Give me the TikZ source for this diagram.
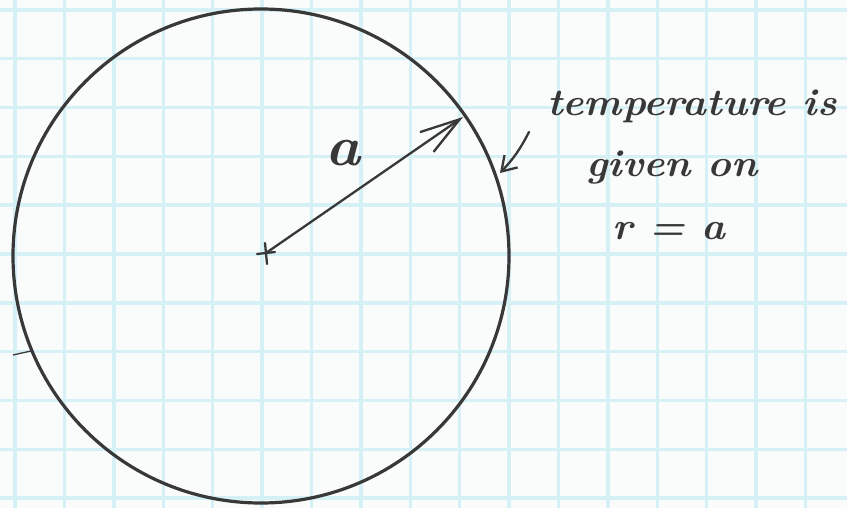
\documentclass[tikz,border=0pt]{standalone}
\usetikzlibrary{arrows.meta}
\definecolor{paper}{HTML}{FAFBFB}
\definecolor{gridblue}{HTML}{D6F1F6}
\definecolor{ink}{HTML}{383838}
\begin{document}
\begin{tikzpicture}[x=1pt,y=-1pt,
  inkline/.style={draw=ink,line width=3.2pt,line cap=round},
  thinink/.style={draw=ink,line width=2.3pt,line cap=round},
  hand/.style={text=ink,inner sep=0pt,anchor=base,xscale=1.06,font=\fontsize{38}{44}\selectfont\bfseries\itshape},
  gridline/.style={draw=gridblue,line width=3.4pt}]
\fill[paper] (0,0) rectangle (847,508);
\useasboundingbox (0,0) rectangle (847,508);
% grid paper
\foreach \k in {0,...,16} {\draw[gridline] ({15+49.4*\k},0) -- ({15+49.4*\k},508);}
\foreach \k in {0,...,10} {\draw[gridline] (0,{10+48.8*\k}) -- (847,{10+48.8*\k});}
% circle
\coordinate (C) at (261,256);
\draw[inkline] (C) ellipse [x radius=248pt, y radius=247pt];
% small stray tick on the left of the circle
\coordinate (t1) at (13,355);
\coordinate (t2) at (31,351);
\draw[draw=ink,line width=1.3pt] (t1) -- (t2);
% centre cross
\coordinate (O) at (266,253);
\draw[thinink] ([shift={(-9,1)}]O) -- ([shift={(9,-1)}]O);
\draw[thinink] ([shift={(-1,-10)}]O) -- ([shift={(1,11)}]O);
% radius arrow
\coordinate (A) at (463,117);
\draw[thinink,-{Straight Barb[length=40pt,width=24pt,line width=2.3pt]}] (O) -- (A);
\node[hand,font=\fontsize{56}{60}\selectfont\bfseries\itshape] (alab) at (343,166) {a};
% label
\node[hand] (t1l) at (692,116) {temperature is};
\node[hand] (t2l) at (672,177) {given on};
\node[hand] (t3l) at (669,240) {r = a};
% pointer arrow
\coordinate (P) at (529,132);
\coordinate (Q) at (500,173);
\draw[thinink,-{Straight Barb[length=14pt,width=18pt,line width=2.3pt]}] (P) to[bend left=8] (Q);
\end{tikzpicture}
\end{document}
